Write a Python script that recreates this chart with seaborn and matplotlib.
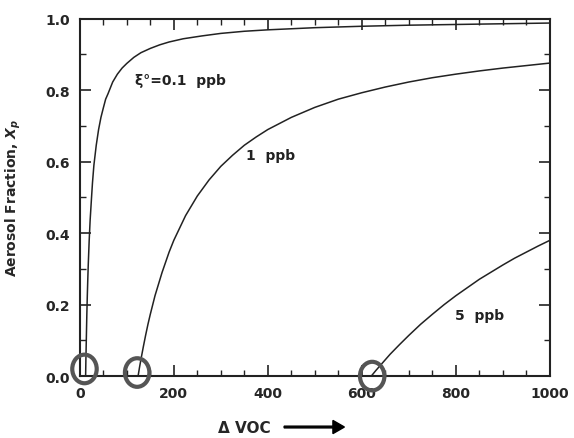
import matplotlib
matplotlib.use("Agg")
import matplotlib.pyplot as plt
from matplotlib.patches import Ellipse, FancyArrow
import seaborn as sns
import pandas as pd

# ---- data ----
x_01 = [12.4, 13, 14, 15, 16, 17, 18, 20, 22, 25, 27, 30, 35, 40, 45, 50, 55, 60, 70, 80, 90,
        100, 115, 130, 150, 170, 190, 220, 260, 300, 350, 400, 500, 600, 700, 800, 900, 1000]
y_01 = [0.0, 0.046, 0.11, 0.173, 0.225, 0.27, 0.311, 0.38, 0.436, 0.50, 0.541, 0.59, 0.646, 0.69,
        0.724, 0.75, 0.775, 0.79, 0.823, 0.845, 0.862, 0.875, 0.892, 0.905, 0.917, 0.927, 0.935,
        0.944, 0.952, 0.959, 0.965, 0.969, 0.975, 0.979, 0.982, 0.984, 0.986, 0.988]

x_1 = [124, 127, 130, 135, 140, 145, 150, 160, 175, 190, 200, 225, 250, 275, 300, 325, 350, 375,
       400, 450, 500, 550, 600, 650, 700, 750, 800, 850, 900, 950, 1000]
y_1 = [0.0, 0.024, 0.046, 0.081, 0.114, 0.145, 0.173, 0.225, 0.29, 0.347, 0.38, 0.449, 0.504,
       0.549, 0.587, 0.618, 0.646, 0.669, 0.69, 0.724, 0.752, 0.775, 0.793, 0.809, 0.823, 0.835,
       0.845, 0.854, 0.862, 0.869, 0.876]

x_5 = [620, 625, 630, 640, 650, 660, 680, 700, 725, 750, 775, 800, 825, 850, 875, 900, 925, 950,
       975, 1000]
y_5 = [0.0, 0.008, 0.016, 0.031, 0.046, 0.061, 0.088, 0.114, 0.145, 0.173, 0.2, 0.225, 0.248,
       0.271, 0.291, 0.311, 0.33, 0.347, 0.364, 0.38]

series_labels = ["ξ°=0.1  ppb", "1  ppb", "5  ppb"]
label_pos = [(117, 0.83), (354, 0.62), (798, 0.17)]
threshold_x = [10, 122, 622]
threshold_y = [0.02, 0.01, 0.0]

x_ticks = [0, 200, 400, 600, 800, 1000]
y_ticks = [0.0, 0.2, 0.4, 0.6, 0.8, 1.0]

df = pd.concat([
    pd.DataFrame({"x": x_01, "y": y_01, "s": series_labels[0]}),
    pd.DataFrame({"x": x_1, "y": y_1, "s": series_labels[1]}),
    pd.DataFrame({"x": x_5, "y": y_5, "s": series_labels[2]}),
])

sns.set_style("ticks")
plt.rcParams["font.family"] = ["DejaVu Sans"]
plt.rcParams["font.weight"] = "bold"

fig = plt.figure(figsize=(5.74, 4.39), dpi=100)
ax = fig.add_axes([0.139, 0.141, 0.819, 0.814])

sns.lineplot(data=df, x="x", y="y", hue="s", palette=["#222222"] * 3,
             linewidth=1.1, legend=False, ax=ax, estimator=None, sort=False)

ax.set_xlim(0, 1000)
ax.set_ylim(0, 1.0)
ax.set_xticks(x_ticks)
ax.set_yticks(y_ticks)
ax.set_xticklabels([str(t) for t in x_ticks], fontsize=10, fontweight="bold")
ax.set_yticklabels([f"{t:.1f}" for t in y_ticks], fontsize=10, fontweight="bold")
ax.set_xticks(range(0, 1001, 50), minor=True)
ax.set_yticks([i / 10 for i in range(11)], minor=True)
ax.tick_params(which="both", direction="in", top=True, right=True, color="#222222")
ax.tick_params(which="major", length=8, width=1.2, pad=7)
ax.tick_params(which="minor", length=4, width=1.0)
for s in ax.spines.values():
    s.set_linewidth(1.5)
    s.set_color("#222222")

ax.set_xlabel("")
ax.set_ylabel("Aerosol Fraction, $\\mathit{X_p}$", fontsize=10, fontweight="bold", labelpad=16)

for lab, (lx, ly) in zip(series_labels, label_pos):
    ax.text(lx, ly, lab, fontsize=10, fontweight="bold", color="#222222", ha="left", va="center")

for tx, ty in zip(threshold_x, threshold_y):
    ax.add_patch(Ellipse((tx, ty), width=52, height=0.08, fill=False,
                         edgecolor="#555555", linewidth=3, clip_on=False, zorder=5))

fig.text(0.425, 0.025, "Δ VOC", fontsize=11, fontweight="bold", ha="center", va="center")
fig.patches.append(FancyArrow(0.495, 0.025, 0.105, 0, width=0.004,
                              head_width=0.03, head_length=0.02,
                              length_includes_head=True, color="black",
                              transform=fig.transFigure, figure=fig))

fig.savefig("out.png", dpi=100)
